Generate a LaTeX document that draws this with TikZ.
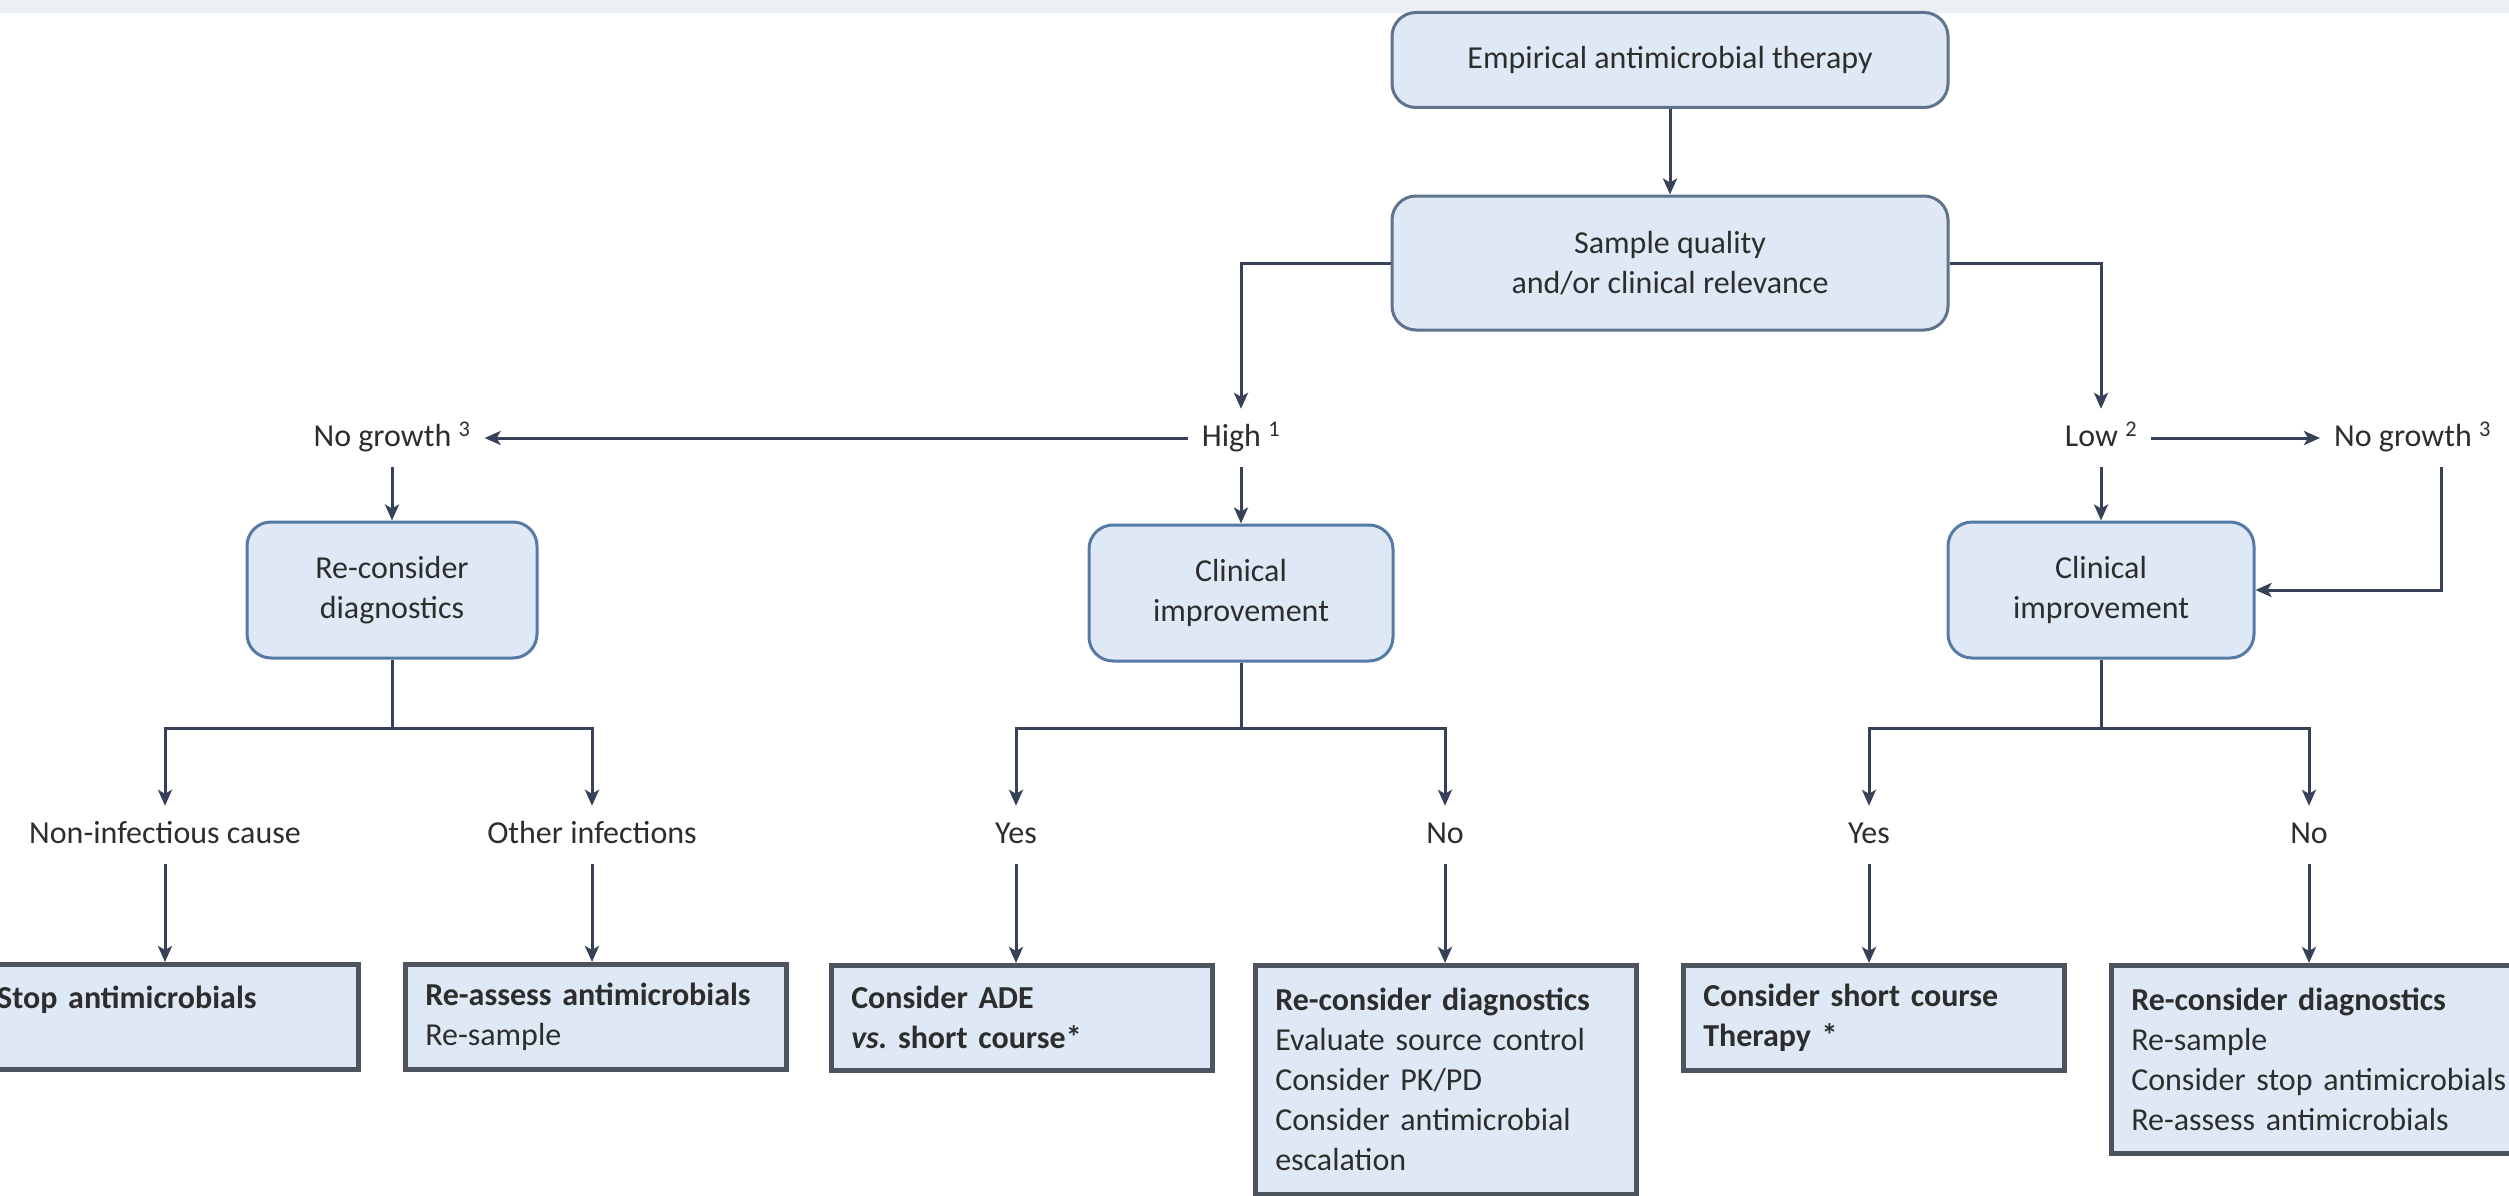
\documentclass[tikz,border=0pt]{standalone}
\usepackage{fontspec}
\setmainfont{Carlito}
\usepackage{tikz}
\usetikzlibrary{calc}
\usetikzlibrary{arrows.meta}
\usetikzlibrary{positioning}
\definecolor{boxfill}{RGB}{222, 233, 245}
\definecolor{boxedge}{RGB}{84, 122, 165}
\definecolor{topedge}{RGB}{95, 115, 142}
\definecolor{leafedge}{RGB}{78, 84, 94}
\definecolor{linkcol}{RGB}{55, 66, 88}
\definecolor{inkgray}{RGB}{45, 45, 45}
\definecolor{bandgray}{RGB}{236, 239, 243}
\frenchspacing

\tikzset{
  roundbox/.style={draw=boxedge, fill=boxfill, line width=3pt, rounded corners=24pt,
                   align=center, text=inkgray, minimum height=136pt},
  leafbox/.style={draw=leafedge, fill=boxfill, line width=4.5pt, align=left,
                  anchor=north west, text=inkgray, inner xsep=20pt, text width=341pt,
                  minimum height=105pt},
  lbl/.style={text=inkgray, inner sep=14pt, text height=23pt, text depth=7pt},
  link/.style={draw=linkcol, line width=3pt},
  conn/.style={link, -{Stealth[length=16pt, width=14pt, inset=4pt]}}
}

\begin{document}
\begin{tikzpicture}[x=1pt, y=-1pt, font=\fontsize{32}{40}\selectfont]
            % Frame to fix the page
            \useasboundingbox (0,0) rectangle (2509,1196);
            \clip (0,0) rectangle (2509,1196);
            \fill[bandgray] (0,0) rectangle (2509,13);
            % Top of the tree
            \node[roundbox, draw=topedge, minimum width=556pt, minimum height=95pt] (empirical) at (1670, 60) {Empirical antimicrobial therapy};
            \node[roundbox, draw=topedge, minimum width=556pt, minimum height=134pt] (sample) at (1670,263) {Sample quality\\and/or clinical relevance};
            % Growth labels
            \node[lbl] (nogrowthL) at ( 392,438) {No growth \textsuperscript{3}};
            \node[lbl] (high)      at (1241,438) {High \textsuperscript{1}};
            \node[lbl] (low)       at (2101,438) {Low \textsuperscript{2}};
            \node[lbl, anchor=west] (nogrowthR) at (2320,438) {No growth \textsuperscript{3}};
            \coordinate (ngturn) at (2441,590);
            % Middle row
            \node[roundbox, minimum width=290pt] (rediag)   at ( 392,590) {Re-consider\\diagnostics};
            \node[roundbox, minimum width=304pt] (climid)   at (1241,593) {Clinical\\improvement};
            \node[roundbox, minimum width=306pt] (cliright) at (2101,590) {Clinical\\improvement};
            \coordinate (rdfork)  at ( 392,728);
            \coordinate (cmfork)  at (1241,728);
            \coordinate (crfork)  at (2101,728);
            % Branch labels
            \node[lbl] (noninf)   at ( 165,835) {Non-infectious cause};
            \node[lbl] (otherinf) at ( 592,835) {Other infections};
            \node[lbl] (yesmid)   at (1016,835) {Yes};
            \node[lbl] (nomid)    at (1445,835) {No};
            \node[lbl] (yesright) at (1869,835) {Yes};
            \node[lbl] (noright)  at (2309,835) {No};
            % Bottom row
            \node[leafbox] (stopbox)   at ( -25,962) {\textbf{Stop antimicrobials}\\\mbox{}};
            \node[leafbox] (reassess)  at ( 403,962) {\textbf{Re-assess antimicrobials}\\Re-sample};
            \node[leafbox] (ade)       at ( 829,963) {\textbf{Consider ADE}\\\textbf{\textit{vs.} short course*}};
            \node[leafbox, minimum height=229pt] (rediagno) at (1253,963) {\textbf{Re-consider diagnostics}\\Evaluate source control\\Consider PK/PD\\Consider antimicrobial\\escalation};
            \node[leafbox] (shortc)    at (1681,963) {\textbf{Consider short course}\\\textbf{Therapy *}};
            \node[leafbox, text width=380pt, minimum height=188pt] (rediagyes) at (2109,963) {\textbf{Re-consider diagnostics}\\Re-sample\\Consider stop antimicrobials\\Re-assess antimicrobials};
            % Connectors, top
            \draw[conn] (empirical) -- (sample);
            \draw[conn] (sample.west) -| (high);
            \draw[conn] (sample.east) -| (low);
            \draw[conn] (high) -- (nogrowthL);
            \draw[conn] (low) -- (nogrowthR);
            \draw[conn] (nogrowthR.south -| ngturn) -- (ngturn) -- (cliright.east);
            \draw[conn] (nogrowthL) -- (rediag);
            \draw[conn] (high) -- (climid);
            \draw[conn] (low) -- (cliright);
            % Connectors, forks
            \draw[link] (rediag) -- (rdfork);
            \draw[conn] (rdfork) -| (noninf);
            \draw[conn] (rdfork) -| (otherinf);
            \draw[link] (climid) -- (cmfork);
            \draw[conn] (cmfork) -| (yesmid);
            \draw[conn] (cmfork) -| (nomid);
            \draw[link] (cliright) -- (crfork);
            \draw[conn] (crfork) -| (yesright);
            \draw[conn] (crfork) -| (noright);
            % Connectors, bottom
            \draw[conn] (noninf)   -- (noninf |- stopbox.north);
            \draw[conn] (otherinf) -- (otherinf |- reassess.north);
            \draw[conn] (yesmid)   -- (yesmid |- ade.north);
            \draw[conn] (nomid)    -- (nomid |- rediagno.north);
            \draw[conn] (yesright) -- (yesright |- shortc.north);
            \draw[conn] (noright)  -- (noright |- rediagyes.north);
\end{tikzpicture}
\end{document}
